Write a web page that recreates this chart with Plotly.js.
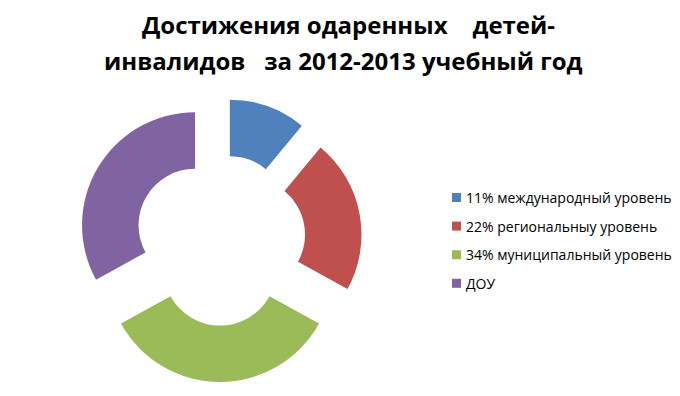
<!DOCTYPE html>
<html><head><meta charset="utf-8">
<script src="https://cdn.plot.ly/plotly-3.0.1.min.js"></script>
<style>html,body{margin:0;padding:0;background:#fff}#chart{width:680px;height:396px}</style>
</head><body><div id="chart"></div>
<script>
const categories = ["11% международный уровень", "22% региональныу уровень", "34% муниципальный уровень", "ДОУ"];
const values = [11, 22, 34, 33];
const colors = ["#4F81BD", "#C0504D", "#9BBB59", "#8064A2"];
const titleLine1 = "Достижения одаренных\u00a0\u00a0\u00a0\u00a0детей-";
const titleLine2 = "инвалидов\u00a0\u00a0\u00a0за 2012-2013\u00a0учебный год";

const W = 680, H = 396;
const shapes = [];
const annotations = [{
  text: titleLine2, xref: "paper", yref: "paper", x: 343/W, y: 1 - 61/H,
  xanchor: "center", yanchor: "middle", showarrow: false,
  font: {family: "Open Sans", size: 24, color: "#000", weight: "bold"}
}];
categories.forEach((c, i) => {
  const cy = 197.5 + i * 28.6;
  shapes.push({type: "rect", xref: "paper", yref: "paper",
    x0: 452/W, x1: 461/W, y0: 1 - (cy + 4.5)/H, y1: 1 - (cy - 4.5)/H,
    fillcolor: colors[i], line: {width: 0}});
  annotations.push({text: c, xref: "paper", yref: "paper", x: 464/W, y: 1 - cy/H,
    xanchor: "left", yanchor: "middle", showarrow: false,
    font: {family: "Open Sans", size: 14, color: "#000"}});
});

Plotly.newPlot("chart", [{
  type: "pie",
  labels: categories,
  values: values,
  marker: {colors: colors, line: {width: 0}},
  hole: 0.5,
  pull: [0.257, 0.257, 0.257, 0.257],
  sort: false,
  direction: "clockwise",
  rotation: 0,
  textinfo: "none",
  hoverinfo: "none",
  showlegend: false,
  domain: {x: [78/W, 362/W], y: [1 - 382/H, 1 - 98/H]}
}], {
  width: W, height: H,
  margin: {l: 0, r: 0, t: 0, b: 0},
  paper_bgcolor: "#fff",
  title: {text: titleLine1, x: 348.5/W, xanchor: "center", y: 1 - 26/H, yanchor: "middle", yref: "container",
          font: {family: "Open Sans", size: 24, color: "#000", weight: "bold"}},
  showlegend: false,
  shapes: shapes,
  annotations: annotations
}, {staticPlot: true});
</script></body></html>
